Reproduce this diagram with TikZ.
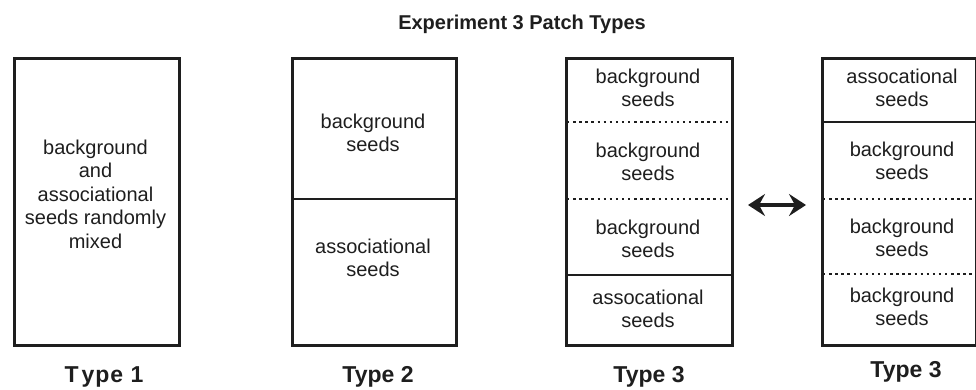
\documentclass[tikz,border=0pt]{standalone}
\usepackage{fontspec}
\setmainfont{Liberation Sans}
\usetikzlibrary{arrows.meta}
\definecolor{ink}{HTML}{1E1E1E}
\begin{document}
\begin{tikzpicture}[x=1pt,y=-1pt,
  patch/.style={draw=ink,line width=2.6pt,rectangle,inner sep=0pt,
    anchor=north west,minimum height=287pt},
  seedtext/.style={align=center,font=\fontsize{20}{23.5}\selectfont,text=ink},
  typelabel/.style={font=\fontsize{23}{26}\selectfont\bfseries,text=ink,anchor=base},
  headline/.style={font=\fontsize{20}{24}\selectfont\bfseries,text=ink,anchor=base},
  solidsep/.style={draw=ink,line width=2.6pt},
  dotsep/.style={draw=ink,line width=2.7pt,dash pattern=on 2.4pt off 3.7pt},
  swaparrow/.style={draw=ink,line width=3.2pt,
    {Stealth[length=17pt,width=22pt,inset=6pt]}-{Stealth[length=17pt,width=22pt,inset=6pt]}},
]
\useasboundingbox (0,0) rectangle (976,389);

% title
\node[headline] (title) at (522,29) {Experiment 3 Patch Types};

% patch outlines
\node[patch,minimum width=165pt] (box1) at (13,57) {};
\node[patch,minimum width=164pt] (box2) at (291,57) {};
\node[patch,minimum width=166pt] (box3) at (565,57) {};
\node[patch,minimum width=154pt] (box4) at (821,57) {};

% compartment separators
\draw[solidsep] (291,199) -- (455,199);
\draw[dotsep] (567,122) -- (729,122);
\draw[dotsep] (567,199) -- (729,199);
\draw[solidsep] (565,275) -- (731,275);
\draw[solidsep] (821,122) -- (975,122);
\draw[dotsep] (823,199) -- (973,199);
\draw[dotsep] (823,274) -- (973,274);

% patch contents
\node[seedtext] (t1) at (95.5,194) {background\\and\\associational\\seeds randomly\\mixed};
\node[seedtext] (t2a) at (373,133) {background\\seeds};
\node[seedtext] (t2b) at (373,258) {associational\\seeds};
\node[seedtext] (t3a) at (648,88) {background\\seeds};
\node[seedtext] (t3b) at (648,162) {background\\seeds};
\node[seedtext] (t3c) at (648,239) {background\\seeds};
\node[seedtext] (t3d) at (648,309) {assocational\\seeds};
\node[seedtext] (t4a) at (902,88) {assocational\\seeds};
\node[seedtext] (t4b) at (902,161) {background\\seeds};
\node[seedtext] (t4c) at (902,238) {background\\seeds};
\node[seedtext] (t4d) at (902,307) {background\\seeds};

% exchange arrow between the two type 3 arrangements
\coordinate (swapL) at (748,205);
\coordinate (swapR) at (806,205);
\draw[swaparrow] (swapL) -- (swapR);

% type labels
\node[typelabel] (lab1) at (104,382) {T\kern3pt y\kern1pt p\kern1pt e\kern1pt\ 1};
\node[typelabel] (lab2) at (378,382) {Type 2};
\node[typelabel] (lab3) at (649,382) {Type 3};
\node[typelabel] (lab4) at (906,377) {Type 3};
\end{tikzpicture}
\end{document}
